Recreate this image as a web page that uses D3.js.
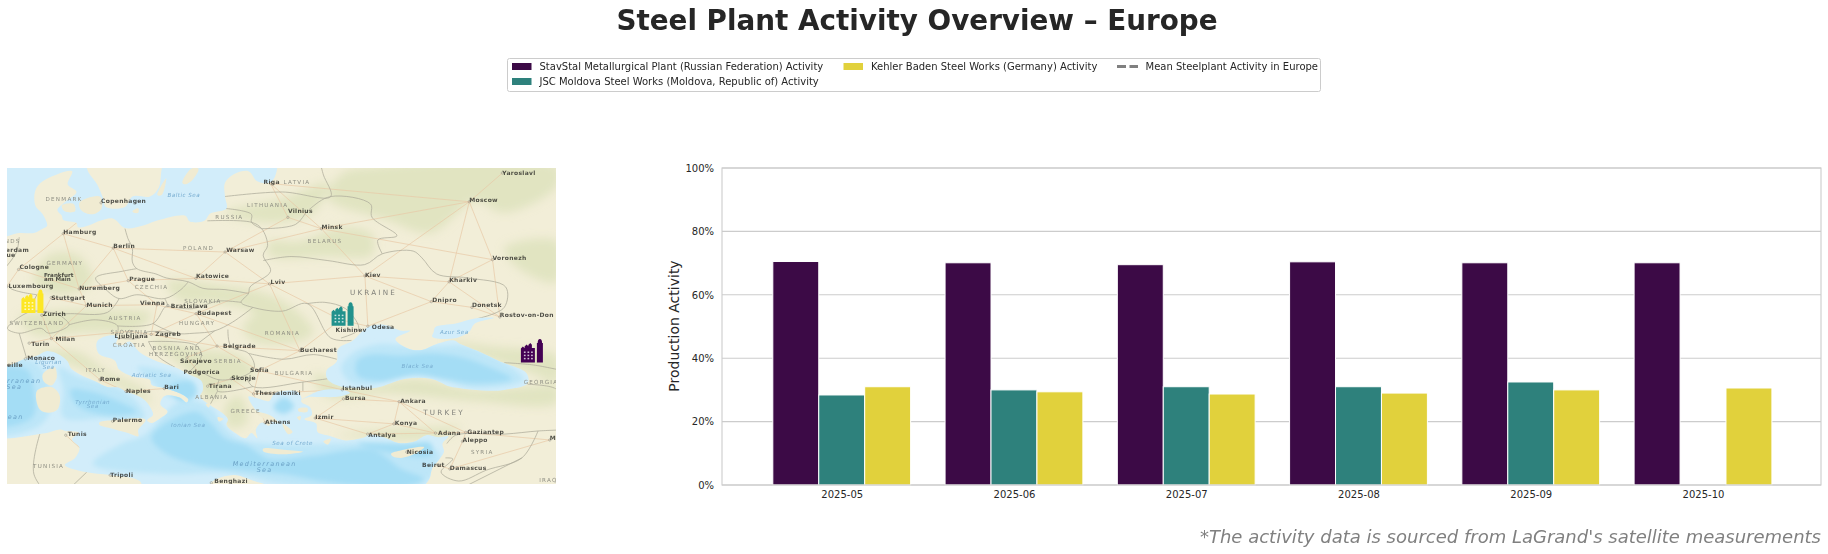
<!DOCTYPE html>
<html><head><meta charset="utf-8">
<script src="https://cdn.jsdelivr.net/npm/d3@7/dist/d3.min.js"></script>
<style>
html,body{margin:0;padding:0;background:#fff}
svg{display:block}
text{font-family:"DejaVu Sans",sans-serif}
</style></head><body>
<svg id="chart" width="1828" height="554"></svg>
<script>
// ---------- chart data ----------
const months = ["2025-05","2025-06","2025-07","2025-08","2025-09","2025-10"];
const stavstal = [70.5,70.1,69.5,70.4,70.1,70.1];
const moldova = [28.4,30.0,31.0,31.0,32.5,null];
const kehler = [31.0,29.4,28.7,29.0,30.0,30.6];
const yTicks = [0,20,40,60,80,100];
const seriesNames = ["StavStal Metallurgical Plant (Russian Federation) Activity","JSC Moldova Steel Works (Moldova, Republic of) Activity","Kehler Baden Steel Works (Germany) Activity"];
const meanName = "Mean Steelplant Activity in Europe";
const barColors = ["#3c0a46","#2e817c","#e1d13c"];
const iconColors = ["#440154","#21918c","#fde725"];
const plants = [[41.88,44.45],[29.0,47.5],[7.9,48.5]];

// ---------- basemap geography (lon, lat) ----------
const northSeas = [[5,53.3],[7,53.6],[8,53.6],[8.6,53.9],[8.9,54.1],[8.6,54.9],[8.1,55.5],[8.1,56.5],[8.6,57.1],[10.6,57.75],[10.3,56.9],[10.9,56.4],[10.2,55.8],[9.6,55.2],[9.9,54.8],[10,54.5],[10.9,54.3],[11,54],[11.9,54.2],[12.5,54.45],[13.4,54.6],[14.2,53.95],[15.5,54.15],[16.5,54.5],[18.3,54.8],[18.6,54.4],[19.6,54.45],[20,54.95],[21.1,55.3],[21,56.1],[21,57],[21.7,57.6],[22.6,57.75],[23.2,57.1],[24,57],[24.4,57.4],[24.4,58.6],[17,58.6],[16.7,57.9],[16.5,56.7],[15.9,56.1],[14.7,56.1],[14.2,55.4],[12.9,55.4],[12.7,56],[12.3,56.9],[11.7,57.7],[11.2,58.9],[5,59]];
const medSea = [[5,43.1],[6.2,43.1],[7.3,43.7],[8.2,44],[8.9,44.4],[9.8,44.05],[10.3,43.5],[10.5,42.95],[11.1,42.4],[12.2,41.75],[13,41.25],[13.8,41.2],[14.3,40.8],[14.9,40.55],[15.6,40],[16,39.2],[16.1,38.7],[15.7,38.2],[16,37.95],[16.6,38.4],[17.1,39],[16.6,39.7],[16.9,40.45],[17.9,40.3],[18.4,39.85],[18.5,40.15],[18,40.65],[16.9,41.15],[16,41.45],[15.9,41.9],[14.7,42.2],[13.8,42.8],[13.5,43.6],[12.4,44.2],[12.3,45.2],[13.1,45.7],[13.7,45.6],[13.6,45],[14,44.9],[14.5,45.2],[15.2,44.3],[16.4,43.5],[17.6,43],[18.5,42.4],[19.4,41.8],[19.5,41],[19.3,40.4],[20,39.6],[20.8,38.9],[21.2,38.3],[21.1,37.8],[21.7,37],[22.4,36.5],[22.8,37],[23.2,36.5],[23.1,37.3],[23.5,38],[24,37.7],[24.1,38.2],[23.2,39],[22.9,39.5],[22.6,40.4],[23.3,40.2],[24,40],[24.4,40.7],[25.9,40.85],[26.2,40.3],[26.2,39.9],[26.8,39.4],[26.9,38.7],[26.4,38.3],[27.2,37.9],[27.3,37.1],[28.2,36.7],[29.2,36.3],[30.5,36.6],[30.8,36.85],[31.8,36.6],[32.8,36.05],[33.9,36.2],[34.7,36.8],[35.5,36.6],[36.2,36.7],[35.8,36],[35.9,35.2],[35.6,34.5],[35.1,33.6],[34.9,32.5],[34.2,31.4],[33,31.1],[32.2,31.3],[31,31.5],[25,31.6],[23.2,32.2],[21.6,32.9],[20.1,32.2],[19.9,31.5],[18.5,30.4],[15.5,31.4],[15.2,32.3],[13.2,32.9],[11.5,33.2],[10.1,33.9],[10.8,34.6],[11.1,35.6],[10.6,36.4],[11.05,37.05],[10.2,37.2],[9.8,37.35],[8.6,36.95],[5,36.9]];
const marmara = [[26.2,40.1],[27.5,40.95],[29,41],[29.5,40.75],[28.8,40.4],[27.5,40.35],[26.7,40.35]];
const blackSea = [[29,41.25],[28,41.9],[27.9,42.7],[28.6,43.5],[28.7,44.6],[29.7,45.3],[30.7,46.4],[31.8,46.6],[33,46.1],[33.6,46.1],[32.6,45.4],[33.5,44.6],[34.4,44.5],[35.4,45],[36.6,45.3],[37,45],[38.2,44.4],[39.7,43.5],[41.5,42.5],[41.6,41.6],[40,41],[38.5,40.95],[37,41.15],[36.3,41.3],[35,42],[33.3,42],[31.3,41.2],[29.9,41.15]];
const azovSea = [[35.2,46],[35.1,45.6],[36.5,45.45],[37.6,46],[38,46.7],[39.3,47.15],[38,47.1],[36.7,46.7],[35.3,46.4]];
const islands = [
 [[8.6,42.4],[9.4,43],[9.55,42.1],[9.2,41.4],[8.7,41.7]],
 [[8.2,40.9],[9.2,41.25],[9.75,40.5],[9.6,39.2],[9,38.9],[8.4,39.2]],
 [[12.45,38],[13.3,38.2],[15.6,38.25],[15.1,37.3],[15.1,36.7],[14.4,37],[13.1,37.5],[12.45,37.8]],
 [[23.6,35.5],[25,35.4],[26.3,35.2],[24.8,34.95],[23.6,35.25]],
 [[32.3,35],[33,35.35],[34.55,35.65],[33.9,35],[33,34.6],[32.4,34.75]],
 [[18.1,57],[18.7,57.9],[19.2,57.9],[18.8,57.2],[18.3,56.9]],
 [[16.4,56.2],[17,57.3],[16.7,56.2]],
 [[11.1,55.7],[12.5,56.1],[12.6,55.3],[12,54.9],[11.2,55.2]],
 [[9.9,55.5],[10.7,55.6],[10.8,55.1],[10.1,55.1]],
 [[14.7,55.1],[15.1,55.3],[15.1,55],[14.8,55]],
 [[23,39],[24.1,38.65],[24.6,38],[23.6,38.4]],
 [[26,39.3],[26.6,39.35],[26.6,39],[26,39.05]],
 [[25.9,38.5],[26.15,38.6],[26.1,38.2]],
 [[27.7,36.2],[28.2,36.45],[28,35.9]],
 [[20.5,38.5],[20.9,38.35],[20.6,38.1]],
 [[24.9,37.9],[25.6,37.1],[25.3,36.9]],
 [[20,39.8],[19.7,39.7],[19.9,39.4]]
];
const deepWater = [
 [[30,43.6],[31,44.1],[33,44],[35,44.2],[37,43.9],[39,43],[40.5,42],[38,41.6],[36,42],[34,42.4],[31.5,41.8],[30,42.3]],
 [[16.5,37.5],[19,39],[20,38],[21,36.5],[22.5,35.8],[24,34.5],[27,34.8],[31,35.4],[33,33.5],[34.5,32.5],[33,31.7],[28,32.2],[25,33],[22,33.4],[19.5,33.8],[17,35],[16,36.5]],
 [[10.5,41],[12,40.8],[14,39.8],[15,39],[13,38.7],[11,39.5]],
 [[5,42.5],[7.5,42.8],[8,41],[7.9,38.5],[5,37.8]],
 [[17.2,41.3],[18.7,41.7],[19,40.8],[18.6,40.1],[17.8,40.1]],
 [[30,36],[33,35.9],[35,36],[35,34.8],[31,35.5]],
 [[25,40.3],[25.7,39.5],[25,38.8],[24.3,39.4]]
];
const midWater = [
 [[28.9,43],[29.8,44.3],[31.5,45],[33,44.9],[35.2,44.8],[37.3,44.8],[40.5,43],[41.3,41.9],[38,41.2],[35,42.2],[33,42.3],[31,41.5],[29.5,41.7]],
 [[5,43],[8,43.5],[9,41.5],[9,38.7],[8,37.4],[5,37]],
 [[9.7,43],[11,42.2],[14,41],[15.3,39.4],[15.5,38.4],[12.8,38.4],[10,38.5],[10,41]],
 [[15.5,36.8],[18,40],[20,39.4],[21,37.5],[22,36.4],[25,35.9],[29,36],[33,36],[35.6,35],[34.5,32],[30,31.6],[25,32],[21,33.1],[17,33],[12,34],[14,36]],
 [[15,43],[17,42.7],[19,41.5],[19,40.4],[17,40.5],[16,41.8]]
];
const greenPatches = [
 [[31,58],[43.6,58],[43.6,56.8],[40,55],[38,55.8],[35,53.6],[32,54.5],[28,56],[29,57.6]],
 [[26,53],[29,54],[31,53.5],[31,52],[28,51.9],[24,52],[24,53]],
 [[40,52.5],[43.6,53],[43.6,50],[41,51]],
 [[21,55],[25,56],[28,57],[27,55],[24,54.3]],
 [[17,50],[21,49.7],[24,49],[26,47.6],[27,46],[26,45.2],[23,45.2],[22.2,46.5],[23,47.5],[20,48.4],[18,48.5]],
 [[7,47.2],[10,47.8],[13,47.8],[16,47.5],[15,46.2],[11.5,46],[8,45.8]],
 [[16,45.4],[19,44.6],[22,44],[23,42.5],[21,41],[20,40],[18.6,42.5]],
 [[8,44.3],[11,44.3],[13,42.6],[15.5,41],[16,39.7],[15,40.5],[13.5,41.5],[11,43]],
 [[9,52],[11,52],[12,50],[10,49],[8,50]],
 [[27,42.4],[30,41.3],[34,42],[38,41],[41.5,41.3],[43.6,41.3],[43.6,39.8],[38,40],[32,40.7],[28,40.4]],
 [[36,45.3],[39,44.8],[43.6,43.9],[43.6,41.8],[41.6,42.6],[39.5,43.5]],
 [[28.5,36.8],[32,37.3],[35,37.5],[37,37.6],[36,36.7],[33,36.3],[30,36.6]],
 [[22,40.5],[22.5,38],[21.3,37.5],[21,39.5]]
];
const borders = [
 [[14.2,53.9],[14.4,53.2],[14.7,52.5],[14.7,51.5],[15,51],[16.3,50.6],[17,50.3],[18.5,50],[19.5,49.5],[21,49.4],[22.6,49.1]],
 [[15,51],[14,50.8],[12.2,50.3],[12.9,49.4],[13.8,48.7],[15,49],[16.9,48.7],[18,49.4],[18.5,50]],
 [[13.8,48.7],[13,47.6],[10.5,47.5],[9.6,47.5],[8.5,47.7],[7.6,47.6],[6.2,46.3],[7,45.9],[8.5,46.3],[9,45.9],[10.4,46.6],[9.6,47.5]],
 [[10.4,46.6],[12.2,47],[13.7,46.5],[13.6,45.6]],
 [[13.7,46.5],[16.1,46.7],[16.9,48],[17.1,48.1],[16.9,48.7]],
 [[17.1,48.1],[18.8,47.9],[20.5,48.5],[22.1,48.4]],
 [[16.1,46.7],[17.6,45.9],[18.9,45.9],[20.3,46.1],[21.5,46.8],[22.9,48]],
 [[19.8,54.45],[22.8,54.35],[23.5,53.9],[23.9,52.7],[23.6,52],[24.1,50.8],[22.7,49.6],[22.6,49.1],[22.1,48.4],[22.9,48],[24.9,47.7],[26.6,48.3],[28.2,45.5],[29.6,45.3]],
 [[26.6,48.3],[27.8,48.4],[29.2,47.9],[30.1,46.4],[29.9,46],[28.9,45.5]],
 [[23.6,51.6],[25.5,51.9],[28,51.6],[30.5,51.3],[31.7,52.1],[33.8,52.3],[34.4,51.8],[35.4,50.6],[37.5,50.3],[40.1,49.6],[40,48],[38.2,47.1]],
 [[23.5,53.9],[25.8,54.2],[26.7,55.2],[28.2,56.1],[30.9,55.6],[31,54.7],[32.7,53.4],[31.4,53.1],[31.7,52.1]],
 [[21,56.1],[24.9,56.4],[28.2,56.1],[27.7,57.5],[27.5,58.2]],
 [[21,55.3],[22.8,54.9],[22.8,54.35],[23.5,53.9]],
 [[13.6,45.5],[15.2,45.5],[15.7,46],[17.6,45.9]],
 [[15.8,45.2],[19,44.9],[19.4,44],[18.5,42.5]],
 [[15.8,45.2],[16.4,44],[17.6,43]],
 [[19,44.9],[20.3,46.1]],
 [[21.2,46.2],[21.4,44.8],[22.6,44.2],[23,43],[22.4,42.3],[20.6,41.9],[19.4,42.6]],
 [[22.6,44.2],[25,43.7],[27,44.1],[28.6,43.7]],
 [[22.4,42.3],[22.9,41.3],[26.3,41.7],[28,42]],
 [[20.6,41.9],[20.5,40.9],[22.9,41.3]],
 [[20.5,40.9],[20,39.7]],
 [[26.3,41.7],[26.3,40.9]],
 [[36.1,36],[36.7,36.8],[40,36.9],[42.3,37.2],[44,37.3]],
 [[42.3,37.2],[41.2,34.6],[38.8,33.4],[36.9,32.3],[35.7,33.2],[36.5,34.5],[36,34.6]],
 [[41.6,41.5],[43.5,41.1],[44,40]],
 [[40,43.4],[42,43.2],[44,42.7]],
 [[8.2,49],[7.6,47.6]],[[8.2,49],[6.4,49.5],[6,50.2]],[[7,45.9],[7.5,43.8]],
 [[11.6,33.2],[9.5,30.2]],[[8.4,36.9],[8,33],[9.5,30]],
 [[41.2,34.6],[37,31.5]],[[6,51],[6.8,52.2],[7,53.3]]
];
// name, lon, lat, label dx, label dy
const cities = [
 ["Hamburg",10,53.55],["Berlin",13.4,52.52],["Copenhagen",12.57,55.68],["Riga",24.1,56.95,-7,0],["Vilnius",25.28,54.69,0,-4],["Minsk",27.56,53.9],
 ["Moscow",37.62,55.75],["Yaroslavl",39.87,57.63,0,1.5],["Warsaw",21.01,52.23,1,0],["Voronezh",39.2,51.67],["Kiev",30.52,50.45,0,1.5],["Kharkiv",36.25,50],
 ["Lviv",24.03,49.84,1,0],["Katowice",19.02,50.26],["Prague",14.42,50.09,1,0],["Cologne",6.96,50.94,1,0],["Luxembourg",6.13,49.61,2,1],
 ["Nuremberg",11.08,49.45,0,1],["Stuttgart",9.18,48.78,0,2.5],["Munich",11.58,48.14,0,1.5],["Vienna",16.37,48.21,-17,0],["Bratislava",17.11,48.15,3,2],["Budapest",19.04,47.5,1,1],
 ["Zurich",8.54,47.37,1,.5],["Dnipro",35.04,48.46,1,0],["Donetsk",37.8,48],["Rostov-on-Don",39.7,47.23,0,.5],["Odesa",30.72,46.48,4,2.5],["Kishinev",28.86,47,-5,12],
 ["Bucharest",26.1,44.43,0,1.5],["Belgrade",20.46,44.82,6,2],["Ljubljana",14.5,46.05,-15,7],["Zagreb",15.98,45.8,4,2],["Turin",7.68,45.07,2,3],["Milan",9.19,45.46,4,2.5],
 ["Monaco",7.42,43.73,2,1.5],["Sarajevo",18.41,43.86,-7,6],["Podgorica",19.26,42.44,-16,0],["Sofia",23.32,42.7,-9,1],["Skopje",21.43,42,0,1],["Tirana",19.82,41.33,1,1.5],
 ["Thessaloniki",22.94,40.64,1.5,1.5],["Rome",12.5,41.9,0,1],["Naples",14.27,40.85,0,1],["Bari",16.87,41.12,0,.5],["Palermo",13.36,38.12,0,1],["Tunis",10.17,36.8,2,1],
 ["Tripoli",13.19,32.89,0,1.5],["Benghazi",20.07,32.12,3,0],["Athens",23.73,37.98,0,1],["Izmir",27.14,38.42,0,.5],["Istanbul",28.98,41.01,0,.5],["Bursa",29.06,40.19,1.5,1],
 ["Ankara",32.85,39.93,1,1.5],["Konya",32.49,37.87,1,1.5],["Antalya",30.71,36.9,.5,2.5],["Adana",35.32,37,2.5,1.5],["Gaziantep",37.38,37.07,1.5,2],["Aleppo",37.16,36.2,0,1],
 ["Nicosia",33.37,35.17,0,2],["Beirut",35.5,33.89,-16,2],["Damascus",36.3,33.51,0,1.5],["Mosul",43.1,36.34],["Marseille",5.37,43.3,-6,3],["Rotterdam",4.48,51.92,8,-4],["The Hague",4.3,52.08,-3,3]
];
const twoLineCity = [["Frankfurt",8.68,50.4],["am Main",8.68,50.05]];
const countries = [
 ["DENMARK",10.05,55.9],["LATVIA",25.9,57],["LITHUANIA",23.9,55.5],["RUSSIA",21.3,54.7],["BELARUS",27.8,53],["POLAND",19.2,52.5],["GERMANY",10.1,51.4],
 ["CZECHIA",16,49.6],["AUSTRIA",14.2,47.1],["SLOVAKIA",19.5,48.5],["HUNGARY",19.1,46.7],["ROMANIA",24.9,45.9],["SWITZERLAND",8.2,46.7],["SLOVENIA",14.5,46],
 ["CROATIA",14.5,44.9],["BOSNIA AND",17.7,44.6],["HERZEGOVINA",17.7,44.15],["SERBIA",21.2,43.5],["BULGARIA",25.7,42.5],["ITALY",12.2,42.7],["ALBANIA",20.1,40.3],
 ["GREECE",22.4,39],["SYRIA",38.5,35.1],["TUNISIA",9,33.8],["GEORGIA",42.5,41.7],["IRAQ",43,32.4],["NETHERLANDS",5.2,53.0]
];
const bigCountries = [["UKRAINE",31.1,49.1],["TURKEY",35.9,38.9]];
const seaLabels = [
 ["Baltic Sea",18.2,56.2],["Azur Sea",36.6,46],["Black Sea",34.1,43.1],["Ligurian",9,43.4],["Sea",9,43],["Adriatic Sea",16,42.3],["Tyrrhenian",12,39.9],["Sea",12,39.5],
 ["Ionian Sea",18.5,37.7],["Sea of Crete",25.6,36]
];
const bigSeaLabels = [["Mediterranean",23.7,34],["Sea",23.7,33.35]];
const clippedSeaLabels = [["Mediterranean",8.5,41.8],["Sea",7.2,41.2],["Mediterranean",7.3,38.5]];
const roadLinks = [
 ["Hamburg","Berlin"],["Hamburg","Cologne"],["Berlin","Warsaw"],["Berlin","Prague"],["Berlin","Nuremberg"],["Cologne","Nuremberg"],["Nuremberg","Munich"],["Nuremberg","Prague"],["Stuttgart","Munich"],
 ["Munich","Vienna"],["Prague","Vienna"],["Prague","Katowice"],["Katowice","Warsaw"],["Warsaw","Minsk"],["Warsaw","Vilnius"],["Warsaw","Lviv"],["Katowice","Lviv"],["Minsk","Moscow"],["Vilnius","Riga"],["Vilnius","Minsk"],
 ["Kiev","Minsk"],["Kiev","Lviv"],["Kiev","Moscow"],["Kiev","Kharkiv"],["Kiev","Odesa"],["Kiev","Dnipro"],["Kharkiv","Moscow"],["Voronezh","Moscow"],["Voronezh","Rostov-on-Don"],["Kharkiv","Dnipro"],["Dnipro","Donetsk"],
 ["Donetsk","Rostov-on-Don"],["Yaroslavl","Moscow"],["Vienna","Budapest"],["Budapest","Belgrade"],["Budapest","Lviv"],["Belgrade","Sofia"],["Belgrade","Bucharest"],["Bucharest","Kishinev"],["Kishinev","Odesa"],["Bucharest","Sofia"],
 ["Sofia","Istanbul"],["Sofia","Thessaloniki"],["Thessaloniki","Athens"],["Thessaloniki","Istanbul"],["Skopje","Thessaloniki"],["Istanbul","Ankara"],["Bursa","Izmir"],["Bursa","Ankara"],["Ankara","Konya"],["Konya","Antalya"],["Konya","Adana"],["Ankara","Adana"],
 ["Adana","Gaziantep"],["Gaziantep","Aleppo"],["Aleppo","Damascus"],["Damascus","Beirut"],["Izmir","Antalya"],["Milan","Turin"],["Milan","Rome"],["Rome","Naples"],["Naples","Bari"],["Zurich","Milan"],["Ljubljana","Zagreb"],["Zagreb","Belgrade"],["Zagreb","Budapest"],["Sarajevo","Belgrade"],
 ["Tunis","Tripoli"],["Zurich","Stuttgart"],["Copenhagen","Hamburg"],["Luxembourg","Cologne"],["Gaziantep","Mosul"],["Damascus","Mosul"],
 ["Berlin","Katowice"],["Hamburg","Nuremberg"],["Munich","Milan"],["Vienna","Zagreb"],["Ljubljana","Milan"],["Budapest","Bucharest"],["Lviv","Bucharest"],["Lviv","Kishinev"],["Minsk","Riga"],["Minsk","Voronezh"],["Moscow","Riga"],["Voronezh","Kharkiv"],["Kharkiv","Rostov-on-Don"],["Dnipro","Odesa"],["Ankara","Gaziantep"],["Konya","Izmir"],["Antalya","Adana"],["Tirana","Skopje"],["Sarajevo","Podgorica"],["Naples","Palermo"]
];

// ---------- helpers ----------
const svg = d3.select("#chart");
const defs = svg.append("defs");
const textDark = "#262626", gridGrey = "#cccccc";

// ---------- map ----------
const merc = lat => Math.log(Math.tan(Math.PI/4 + lat*Math.PI/360))*180/Math.PI;
const mapBox = {x0:7,x1:556,y0:168,y1:484};
const lonScale = d3.scaleLinear().domain([6.17,43.52]).range([mapBox.x0,mapBox.x1]);
const mercScale = d3.scaleLinear().domain([merc(57.95),merc(32.0)]).range([mapBox.y0,mapBox.y1]);
const px = d => lonScale(d[0]), py = d => mercScale(merc(d[1]));
const ring = d3.line().x(px).y(py).curve(d3.curveCatmullRomClosed.alpha(0.5));
const open = d3.line().x(px).y(py).curve(d3.curveCatmullRom.alpha(0.5));

defs.append("clipPath").attr("id","mapClip").append("rect")
 .attr("x",mapBox.x0).attr("y",mapBox.y0).attr("width",mapBox.x1-mapBox.x0).attr("height",mapBox.y1-mapBox.y0);
const addBlur=(id,s)=>defs.append("filter").attr("id",id).attr("x","-20%").attr("y","-20%").attr("width","140%").attr("height","140%")
  .append("feGaussianBlur").attr("stdDeviation",s);
addBlur("b6",5); addBlur("b3",2.4); addBlur("b05",0.45); addBlur("b03",0.32);

const seaRings=[northSeas,medSea,marmara,blackSea,azovSea];
const seaClip=defs.append("clipPath").attr("id","seaClip");
seaRings.forEach(r=>seaClip.append("path").attr("d",ring(r)));

const map = svg.append("g").attr("clip-path","url(#mapClip)");
map.append("rect").attr("x",mapBox.x0).attr("y",mapBox.y0).attr("width",mapBox.x1-mapBox.x0).attr("height",mapBox.y1-mapBox.y0).attr("fill","#f2eed8");
map.append("g").attr("filter","url(#b6)").selectAll("path").data(greenPatches).join("path").attr("d",ring).attr("fill","#d6deb2").attr("opacity",.6);
const lands = map.append("g").attr("filter","url(#b05)");
lands.append("g").selectAll("path").data(roadLinks).join("path")
  .attr("d",l=>{const a=cities.find(c=>c[0]===l[0]),b=cities.find(c=>c[0]===l[1]);return d3.line().x(px).y(py)([[a[1],a[2]],[b[1],b[2]]]);})
  .attr("fill","none").attr("stroke","#e8c9a6").attr("stroke-width",.7);
lands.append("g").selectAll("path").data(borders).join("path").attr("d",open).attr("fill","none").attr("stroke","#aeab9b").attr("stroke-width",.75);
const seas = map.append("g").attr("filter","url(#b05)");
seas.selectAll("path").data(seaRings).join("path").attr("d",ring).attr("fill","#d2edfa");
const depth = map.append("g").attr("clip-path","url(#seaClip)");
depth.append("g").attr("filter","url(#b3)").selectAll("path").data(midWater).join("path").attr("d",ring).attr("fill","#bde6f8");
depth.append("g").attr("filter","url(#b3)").selectAll("path").data(deepWater).join("path").attr("d",ring).attr("fill","#a4ddf5");
map.append("g").attr("filter","url(#b05)").selectAll("path").data(islands).join("path").attr("d",ring).attr("fill","#f0ebd2");

const labels = map.append("g").attr("filter","url(#b03)");
labels.append("g").selectAll("rect").data(cities).join("rect")
  .attr("x",d=>px([d[1],d[2]])-1.2).attr("y",d=>py([d[1],d[2]])-1.2).attr("width",2.4).attr("height",2.4).attr("rx",1.2)
  .attr("fill","none").attr("stroke","#8c8c84").attr("stroke-width",.5);
labels.append("g").selectAll("text").data(cities).join("text")
  .attr("x",d=>px([d[1],d[2]])+(d[3]||0)).attr("y",d=>py([d[1],d[2]])+(d[4]||0))
  .attr("font-size",6).attr("font-weight",700).attr("letter-spacing",.3).attr("fill","#2c2c28").attr("opacity",.82).text(d=>d[0]);
labels.append("g").selectAll("text").data(twoLineCity).join("text")
  .attr("x",d=>px([d[1],d[2]])).attr("y",d=>py([d[1],d[2]]))
  .attr("font-size",5.6).attr("font-weight",700).attr("fill","#2c2c28").attr("opacity",.82).text(d=>d[0]);
labels.append("g").selectAll("text").data(countries).join("text")
  .attr("x",d=>px([d[1],d[2]])).attr("y",d=>py([d[1],d[2]])).attr("text-anchor","middle").attr("dominant-baseline","middle")
  .attr("font-size",5.6).attr("letter-spacing",1.25).attr("fill","#8f8f84").text(d=>d[0]);
labels.append("g").selectAll("text").data(bigCountries).join("text")
  .attr("x",d=>px([d[1],d[2]])).attr("y",d=>py([d[1],d[2]])).attr("text-anchor","middle").attr("dominant-baseline","middle")
  .attr("font-size",7.2).attr("letter-spacing",2.2).attr("fill","#80807a").text(d=>d[0]);
labels.append("g").selectAll("text").data(seaLabels).join("text")
  .attr("x",d=>px([d[1],d[2]])).attr("y",d=>py([d[1],d[2]])).attr("text-anchor","middle").attr("dominant-baseline","middle")
  .attr("font-size",5.6).attr("font-style","italic").attr("letter-spacing",.5).attr("fill","#77acd0").text(d=>d[0]);
labels.append("g").selectAll("text").data(bigSeaLabels).join("text")
  .attr("x",d=>px([d[1],d[2]])).attr("y",d=>py([d[1],d[2]])).attr("text-anchor","middle").attr("dominant-baseline","middle")
  .attr("font-size",6.4).attr("font-style","italic").attr("letter-spacing",1.3).attr("fill","#6ba1c6").text(d=>d[0]);
labels.append("g").selectAll("text").data(clippedSeaLabels).join("text")
  .attr("x",d=>px([d[1],d[2]])).attr("y",d=>py([d[1],d[2]])).attr("text-anchor","end").attr("dominant-baseline","middle")
  .attr("font-size",6.4).attr("font-style","italic").attr("letter-spacing",1.3).attr("fill","#6ba1c6").text(d=>d[0]);

// factory icons
const iconBody = "M-11,12V-2L-9,-4L-7.3,-2.2V-4L-5.3,-6L-3.6,-4.2V-5.5L-1.6,-7.5L0,-5.7V-2.5H3V12Z";
const iconStack = "M5,12V-7.5H5.8C5.8,-10 6.6,-11.5 8,-11.5C9.4,-11.5 10.2,-10 10.2,-7.5H11V12Z";
const windowRows=[0,1,2], windowCols=[0,1,2];
const icons = map.append("g").selectAll("g").data(plants).join("g")
  .attr("transform",d=>`translate(${px(d)},${py(d)})`);
icons.append("path").attr("d",iconBody).attr("fill",(d,i)=>iconColors[i]);
icons.append("path").attr("d",iconStack).attr("fill",(d,i)=>iconColors[i]);
windowRows.forEach(r=>windowCols.forEach(c=>{
  icons.append("rect").attr("x",-8+c*3.6).attr("y",1+r*3.2).attr("width",1.7).attr("height",1.5).attr("fill","#ffffff").attr("opacity",.75);
}));

// ---------- bars ----------
const plot = {l:722,r:1821,t:168,b:485};
const x = d3.scaleLinear().domain([-0.695,5.685]).range([plot.l,plot.r]);
const y = d3.scaleLinear().domain([0,100]).range([plot.b,plot.t]);
const barWidth = 0.8/3;
const g = svg.append("g");
g.append("g").selectAll("line").data(yTicks).join("line")
  .attr("x1",plot.l).attr("x2",plot.r).attr("y1",d=>y(d)).attr("y2",d=>y(d))
  .attr("stroke",gridGrey).attr("stroke-width",1.1);
const series = [stavstal,moldova,kehler];
series.forEach((vals,si)=>{
  g.append("g").selectAll("rect").data(vals.map((v,i)=>({v,i})).filter(d=>d.v!==null)).join("rect")
    .attr("x",d=>x(d.i+(si-1.5)*barWidth)).attr("width",x(barWidth)-x(0))
    .attr("y",d=>y(d.v)).attr("height",d=>y(0)-y(d.v))
    .attr("fill",barColors[si]).attr("stroke","#fff").attr("stroke-width",1);
});
g.append("rect").attr("x",plot.l).attr("y",plot.t).attr("width",plot.r-plot.l).attr("height",plot.b-plot.t)
  .attr("fill","none").attr("stroke",gridGrey).attr("stroke-width",1.1);

const yAxis = d3.axisLeft(y).tickValues(yTicks).tickFormat(d=>d+"%").tickSize(0).tickPadding(8);
const xAxis = d3.axisBottom(x).tickValues(months.map((m,i)=>i)).tickFormat(i=>months[i]).tickSize(0).tickPadding(6);
const ya = g.append("g").attr("transform",`translate(${plot.l},0)`).call(yAxis);
const xa = g.append("g").attr("transform",`translate(0,${plot.b})`).call(xAxis);
[ya,xa].forEach(a=>{a.select(".domain").remove();a.selectAll("text").attr("font-size",10).attr("font-family",'"DejaVu Sans"').attr("fill",textDark);});

g.append("text").attr("transform",`translate(675,326) rotate(-90)`).attr("text-anchor","middle").attr("dominant-baseline","middle")
  .attr("font-size",14).attr("fill",textDark).text("Production Activity");

// ---------- title, source ----------
svg.append("text").attr("x",917).attr("y",30).attr("text-anchor","middle").attr("font-size",27.8).attr("font-weight",700).attr("fill",textDark)
  .text("Steel Plant Activity Overview \u2013 Europe");
svg.append("text").attr("x",1821).attr("y",543).attr("text-anchor","end").attr("font-size",18).attr("font-style","italic").attr("fill","#808080")
  .text("*The activity data is sourced from LaGrand's satellite measurements");

// ---------- legend ----------
const lg = svg.append("g");
lg.append("rect").attr("x",507.5).attr("y",58.5).attr("width",813).attr("height",33).attr("rx",2)
  .attr("fill","#fff").attr("stroke",gridGrey).attr("stroke-width",1);
const legendItems = [
 {name:seriesNames[0],color:barColors[0],hx:512,ty:66.5},
 {name:seriesNames[1],color:barColors[1],hx:512,ty:81.5},
 {name:seriesNames[2],color:barColors[2],hx:843.5,ty:66.5}
];
legendItems.forEach(d=>{
  lg.append("rect").attr("x",d.hx).attr("y",d.ty-3.5).attr("width",19.5).attr("height",7).attr("fill",d.color);
  lg.append("text").attr("x",d.hx+27.5).attr("y",d.ty).attr("dominant-baseline","middle").attr("font-size",10).attr("fill",textDark).text(d.name);
});
lg.append("line").attr("x1",1117).attr("x2",1138).attr("y1",66.5).attr("y2",66.5)
  .attr("stroke","#808080").attr("stroke-width",2.8).attr("stroke-dasharray","9,3.5");
lg.append("text").attr("x",1145.5).attr("y",66.5).attr("dominant-baseline","middle").attr("font-size",10).attr("fill",textDark).text(meanName);
</script>
</body></html>
